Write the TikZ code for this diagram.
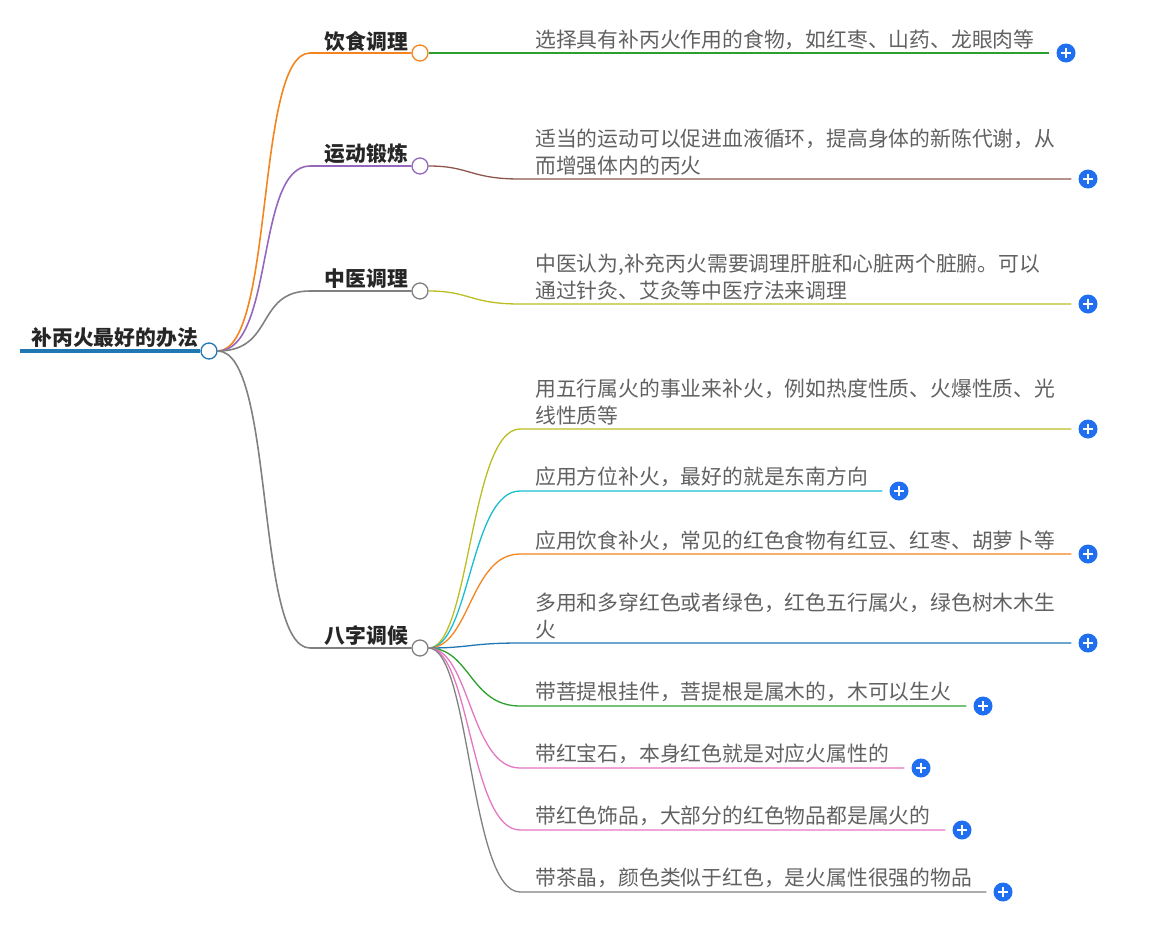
\documentclass[tikz,border=0pt]{standalone}
\usepackage{fontspec}
\setmainfont{Noto Sans CJK SC}
\begin{document}
\begin{tikzpicture}[x=1pt,y=-1pt,
  lbl/.style={font=\fontsize{20.8}{27}\selectfont\bfseries,text=black!85,inner sep=0,anchor=east},
  leaf/.style={font=\fontsize{20.8}{27}\selectfont,text=black!62,inner sep=0,anchor=north west,align=left},
  knob/.style={circle,draw=#1,fill=white,line width=1.3pt,minimum size=16,inner sep=0},
  plus/.style={circle,minimum size=19,inner sep=0},
  br/.style={line width=1.6pt,draw=#1}]
\definecolor{cor}{HTML}{F5841F}\definecolor{cpu}{HTML}{9467BD}\definecolor{cgy}{HTML}{808080}
\definecolor{cgr}{HTML}{2CA02C}\definecolor{cbr}{HTML}{8C564B}\definecolor{col}{HTML}{BCBD22}
\definecolor{ccy}{HTML}{17BECF}\definecolor{cbl}{HTML}{1F77B4}\definecolor{cpk}{HTML}{E377C2}
\definecolor{cplus}{HTML}{1F6FF0}
\tikzset{plus/.append style={fill=cplus,
  path picture={\draw[white,line width=1.8pt] ([xshift=-5]path picture bounding box.center) -- ([xshift=5]path picture bounding box.center)
   ([yshift=-5]path picture bounding box.center) -- ([yshift=5]path picture bounding box.center);}}}
\useasboundingbox (0,0) rectangle (1164,924);
% root
\coordinate (rs) at (20,351);
\node[knob=cbl] (root) at (209,351) {};
\draw[cbl,line width=4pt] (rs) -- (root.west);
\node[lbl,anchor=east] (rt) at (198,338) {补丙火最好的办法};
% level 1
\foreach \n/\y/\c/\t in {a/53/cor/饮食调理,b/166/cpu/运动锻炼,c/291/cgy/中医调理,d/648/cgy/八字调候}{
  \node[knob=\c] (\n) at (420,\y) {};
  \coordinate (\n s) at (310,\y);
  \draw[br=\c] (root.east) .. controls (275,351) and (255,\y) .. (\n s) -- (\n.west);
  \node[lbl] at (408,\y-12) {\t};
}
% level 2
\newcommand\leafitem[7]{%
  \coordinate (#2s) at (520,#3);
  \node[plus] (#2p) at (#5,#3) {};
  \coordinate (#2e) at ([xshift=-7]#2p.west);
  \draw[br=#4,line width=1.3pt] (#1.east) .. controls (470,\csname pY#1\endcsname) and (470,#3) .. (#2s) -- (#2e);
  \node[leaf] (#2t) at (535,#6) {#7};
}
\def\pYa{53}\def\pYb{166}\def\pYc{291}\def\pYd{648}
\leafitem{a}{l1}{53}{cgr}{1066}{30}{选择具有补丙火作用的食物，如红枣、山药、龙眼肉等}
\leafitem{b}{l2}{179}{cbr}{1088}{129}{适当的运动可以促进血液循环，提高身体的新陈代谢，从\\而增强体内的丙火}
\leafitem{c}{l3}{304}{col}{1088}{254}{中医认为,补充丙火需要调理肝脏和心脏两个脏腑。可以\\通过针灸、艾灸等中医疗法来调理}
\leafitem{d}{l4}{429}{col}{1088}{379}{用五行属火的事业来补火，例如热度性质、火爆性质、光\\线性质等}
\leafitem{d}{l5}{491}{ccy}{899}{467}{应用方位补火，最好的就是东南方向}
\leafitem{d}{l6}{554}{cor}{1088}{531}{应用饮食补火，常见的红色食物有红豆、红枣、胡萝卜等}
\leafitem{d}{l7}{643}{cbl}{1088}{593}{多用和多穿红色或者绿色，红色五行属火，绿色树木木生\\火}
\leafitem{d}{l8}{706}{cgr}{983}{682}{带菩提根挂件，菩提根是属木的，木可以生火}
\leafitem{d}{l9}{768}{cpk}{921}{744}{带红宝石，本身红色就是对应火属性的}
\leafitem{d}{l10}{830}{cpk}{962}{806}{带红色饰品，大部分的红色物品都是属火的}
\leafitem{d}{l11}{892}{cgy}{1003}{868}{带茶晶，颜色类似于红色，是火属性很强的物品}
\end{tikzpicture}
\end{document}
